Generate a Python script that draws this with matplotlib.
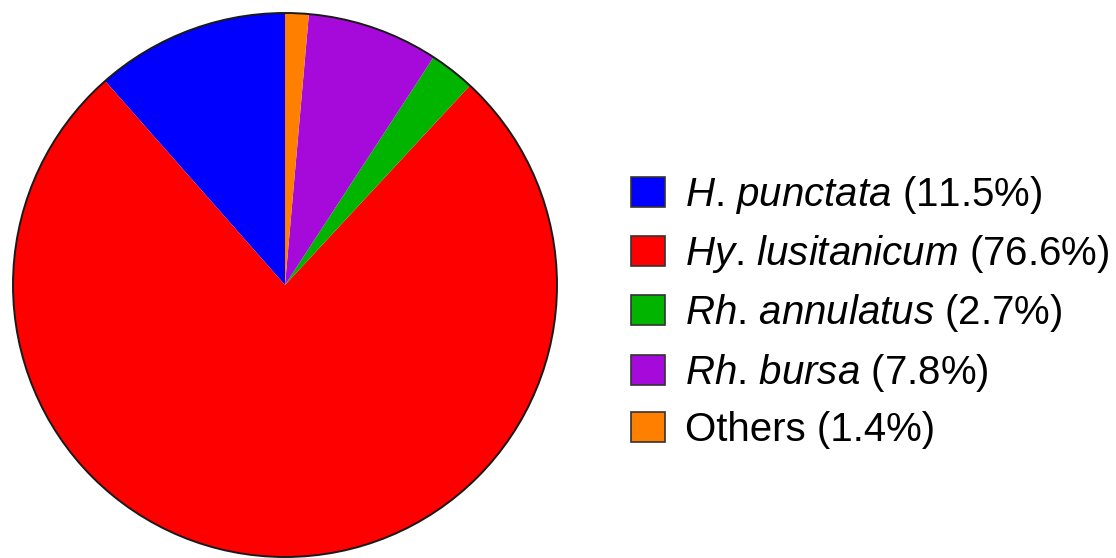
import matplotlib.pyplot as plt
from matplotlib.patches import Circle, Patch

plt.rcParams['font.family'] = ['Liberation Sans', 'DejaVu Sans']
plt.rcParams['mathtext.fontset'] = 'custom'
plt.rcParams['mathtext.rm'] = 'Liberation Sans'
plt.rcParams['mathtext.it'] = 'Liberation Sans:italic'

species = [r'$\mathit{H}$. $\mathit{punctata}$', r'$\mathit{Hy}$. $\mathit{lusitanicum}$',
           r'$\mathit{Rh}$. $\mathit{annulatus}$', r'$\mathit{Rh}$. $\mathit{bursa}$', 'Others']
percent = [11.5, 76.6, 2.7, 7.8, 1.4]
colors = ['#0000FF', '#FF0000', '#00B400', '#A60ADB', '#FF8000']

fig = plt.figure(figsize=(11.16, 5.58), dpi=100)

# pie: centre (285, 285) px, radius 272 px
ax = fig.add_axes([13 / 1116, 1 / 558, 544 / 1116, 544 / 558])
wedges, _ = ax.pie(percent, colors=colors, startangle=90, counterclock=True,
                   wedgeprops=dict(linewidth=0))
ax.add_patch(Circle((0, 0), 1, fill=False, edgecolor='#1a1a1a', linewidth=1.4, clip_on=False))
ax.set_xlim(-1, 1)
ax.set_ylim(-1, 1)
ax.set_aspect('equal')
ax.axis('off')

handles = [Patch(facecolor=c, edgecolor='#333333', linewidth=1.2) for c in colors]
labels = [f'{s} ({p}%)' for s, p in zip(species, percent)]
fig.legend(handles, labels, loc='center left', bbox_to_anchor=(631 / 1116, 0.4418),
           frameon=False, fontsize=29, handlelength=0.84, handleheight=0.77,
           handletextpad=0.5, labelspacing=0.425, borderpad=0, borderaxespad=0)

fig.savefig('out.png', dpi=100)
